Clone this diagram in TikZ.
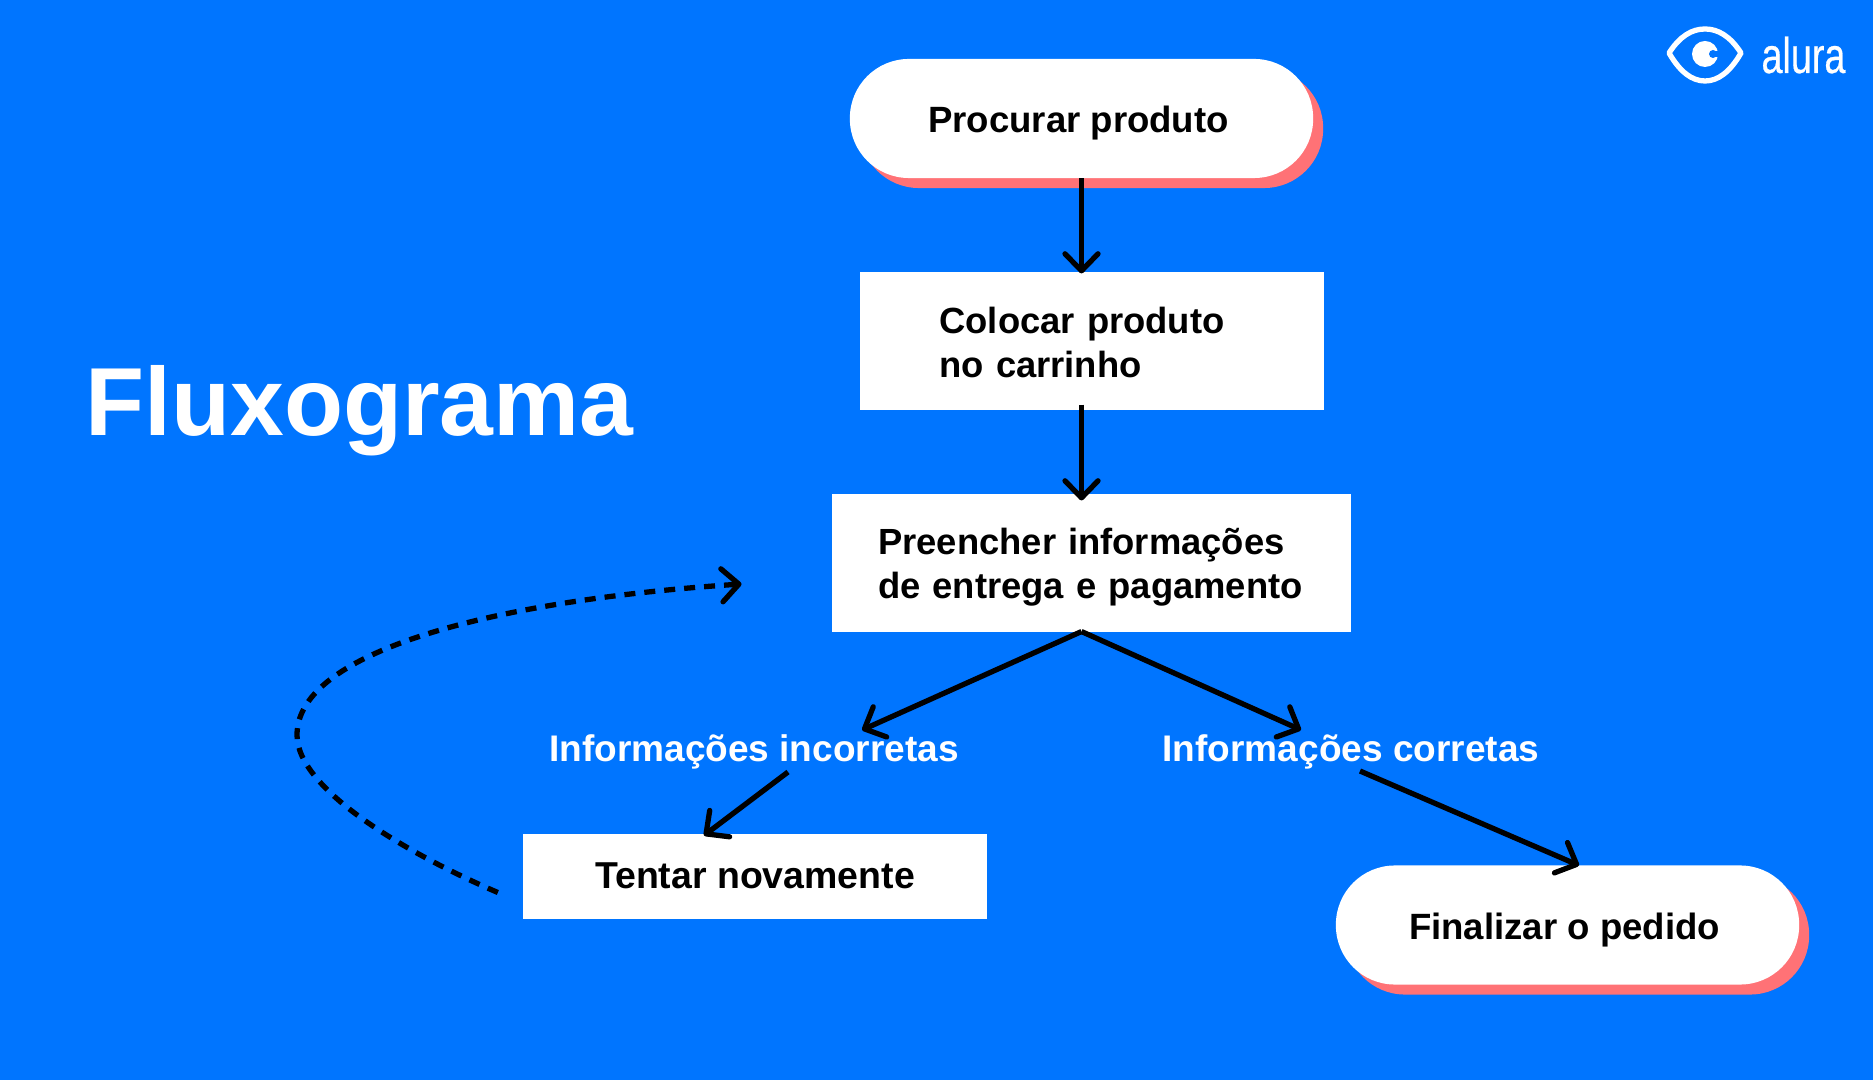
\documentclass[tikz,border=0pt]{standalone}
\usepackage{fontspec}
\setmainfont{Liberation Sans}
\usetikzlibrary{arrows.meta,shadows,calc}
\definecolor{azulfundo}{HTML}{0075FF}
\definecolor{coral}{HTML}{FF7276}
\tikzset{
  flecha/.style={line width=1.5pt,-{Straight Barb[length=.17cm,width=.33cm,round]}},
  pilula/.style={rectangle,rounded corners=.59cm,fill=white,minimum width=4.63cm,minimum height=1.19cm,
    inner sep=0pt,outer sep=0pt,font=\fontsize{10.4}{12.8}\selectfont\bfseries,text height=8pt,text depth=0pt,
    execute at end node=\hspace{.06cm},
    general shadow={fill=coral,shadow xshift=.1cm,shadow yshift=-.1cm}},
  caixa/.style={rectangle,fill=white,inner ysep=0pt,outer sep=0pt,align=left,
    font=\fontsize{10.35}{12.7}\selectfont\bfseries},
  rotulo/.style={text=white,inner sep=0pt,outer sep=0pt,minimum height=.38cm,
    font=\fontsize{10.53}{12.8}\selectfont\bfseries,text height=6.9pt,text depth=0pt},
}
\begin{document}
\begin{tikzpicture}[x=.01cm,y=-.01cm]
    % Fundo
    \fill[azulfundo] (0,0) rectangle (1873,1080);
    \useasboundingbox (0,0) rectangle (1873,1080);

    % Titulo
    \node[anchor=base west,text=white,inner sep=0pt,font=\fontsize{27.5}{30}\selectfont\bfseries] (titulo) at (84.5,435.5) {Fluxograma};

    % Etapas
    \node[pilula] (procurar) at (1081.5,118.5) {Procurar produto};
    \node[caixa,inner xsep=.79cm,text width=3.05cm,minimum height=1.37cm,text depth=12pt] (colocar) at (1092,341) {Colocar produto\\no carrinho};
    \node[caixa,inner xsep=.465cm,text width=4.265cm,minimum height=1.37cm,text depth=12.5pt] (preencher) at (1091.5,563) {Preencher informações\\de entrega e pagamento};
    \node[rotulo] (incorretas) at (754,749) {Informações incorretas};
    \node[rotulo] (corretas) at (1351,749) {Informações corretas};
    \node[caixa,minimum width=4.64cm,minimum height=.84cm,text height=7pt,text depth=0pt,font=\fontsize{10.65}{12.8}\selectfont\bfseries] (tentar) at (755,876.5) {Tentar novamente};
    \node[pilula] (finalizar) at (1567.5,925) {Finalizar o pedido};

    % Setas
    \draw[flecha] (procurar.south) -- ([yshift=-.01cm]procurar.south |- colocar.north);
    \draw[flecha] ([yshift=.05cm]procurar.south |- colocar.south) -- ([yshift=-.06cm]procurar.south |- preencher.north);
    \draw[flecha] (procurar.south |- preencher.south) -- ([xshift=1.08cm]incorretas.north);
    \draw[flecha] (procurar.south |- preencher.south) -- ([xshift=-.5cm]corretas.north);
    \draw[flecha] ([xshift=.34cm,yshift=-.04cm]incorretas.south) -- ([xshift=-.51cm,yshift=-.01cm]tentar.north);
    \draw[flecha] ([xshift=.09cm,yshift=-.03cm]corretas.south) -- ([xshift=.115cm]finalizar.north);

    % Volta tracejada
    \coordinate (saida) at ([xshift=-.25cm,yshift=.26cm]tentar.south west);
    \coordinate (retorno) at ([xshift=-.9cm,yshift=-.21cm]preencher.west);
    \draw[flecha,dash pattern=on .11cm off .09cm] (saida) .. controls (410,855) and (297,790) .. (297,735)
      .. controls (297,650) and (500,600) .. (retorno);

    % Logo
    \draw[white,line width=1.5pt,line join=round] (1669,53) .. controls (1680,36) and (1692,29) .. (1705,29)
      .. controls (1718,29) and (1730,36) .. (1741,53) .. controls (1730,72) and (1718,81) .. (1705,81)
      .. controls (1692,81) and (1680,72) .. (1669,53) -- cycle;
    \fill[white] (1705,54) circle (.13cm);
    \fill[azulfundo] (1713,54) circle (.04cm);
    \fill[azulfundo] (1713,51) rectangle (1720,57);
    \node[text=white,inner sep=0pt,anchor=base west,xscale=.75,font=\fontsize{14.3}{16}\selectfont\addfontfeatures{FakeBold=.5}] (alura) at (1761,73) {alura};
\end{tikzpicture}
\end{document}
